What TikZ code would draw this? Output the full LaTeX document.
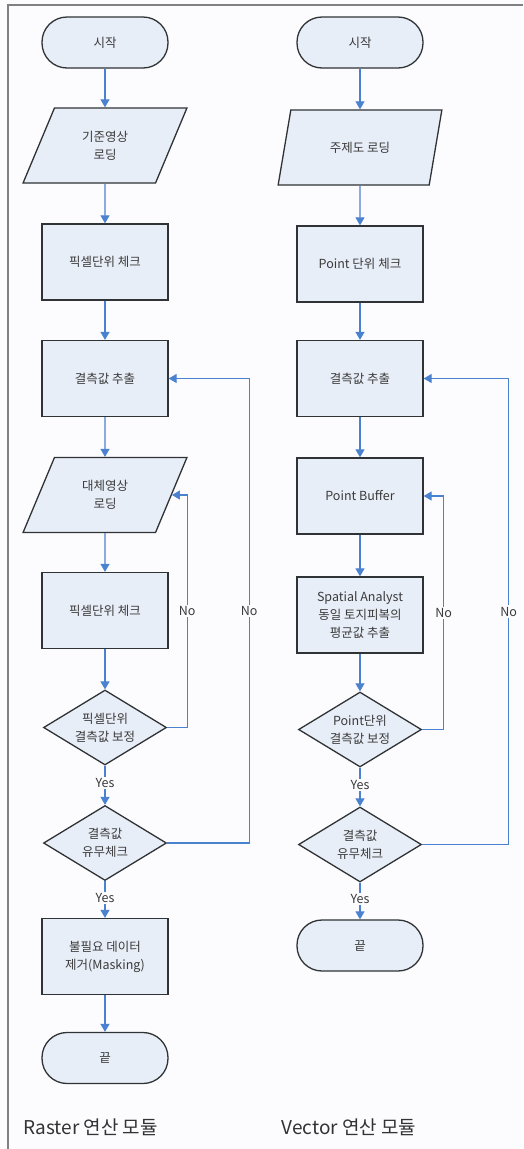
\documentclass[tikz,border=0pt]{standalone}
\usepackage{fontspec}
\setmainfont{Noto Sans CJK KR}
\usepackage{tikz}
\usetikzlibrary{shapes.geometric,arrows.meta}

\definecolor{boxfill}{HTML}{E8EEF7}
\definecolor{boxline}{HTML}{2F3335}
\definecolor{flowblue}{HTML}{4A82D0}
\definecolor{txtgray}{HTML}{3A3A3A}
\definecolor{paper}{HTML}{FCFCFE}

\begin{document}
\begin{tikzpicture}[x=1pt, y=-1pt,
	base/.style={draw=boxline, line width=1.3pt, fill=boxfill, text=txtgray,
		font=\fontsize{12.5}{18}\selectfont, align=center, inner sep=0pt},
	term/.style={base, rounded corners=25pt, minimum width=126pt, minimum height=51pt},
	proc/.style={base, rectangle, minimum width=126pt, minimum height=76pt},
	inout/.style={base, trapezium, trapezium left angle=64, trapezium right angle=116,
		trapezium stretches=true, minimum width=164pt, minimum height=75pt},
	decide/.style={base, diamond, aspect=1.65, minimum width=123pt, minimum height=75pt},
	flow/.style={draw=flowblue, line width=1.1pt, -{Triangle[length=8pt,width=9pt]}},
	lbl/.style={fill=paper, text=txtgray, inner sep=1.5pt, font=\fontsize{12.5}{14}\selectfont}]
\fill[paper] (0,0) rectangle (523,1149);
\useasboundingbox (0,0) rectangle (523,1149);
\draw[gray, line width=1.3pt] (8,1149) -- (8,5) -- (523,5);

% Raster
\node[term]   (st1) at (105,42.5)  {시작};
\node[inout]  (io1) at (105,145.5) {기준영상\\로딩};
\node[proc]   (p1)  at (105,262)   {픽셀단위 체크};
\node[proc]   (ex1) at (105,378.5) {결측값 추출};
\node[inout]  (io2) at (105,495)   {대체영상\\로딩};
\node[proc]   (p2)  at (105,610.5) {픽셀단위 체크};
\node[decide] (d1)  at (105,727.5) {픽셀단위\\결측값 보정};
\node[decide] (d2)  at (105,843)   {결측값\\유무체크};
\node[proc]   (p3)  at (105,956.5) {불필요 데이터\\제거(Masking)};
\node[term]   (en1) at (105,1058)  {끝};

\draw[flow] (st1) -- (io1);
\draw[flow] (io1) -- (p1);
\draw[flow] (p1) -- (ex1);
\draw[flow] (ex1) -- (io2);
\draw[flow] (io2) -- (p2);
\draw[flow] (p2) -- (d1);
\draw[flow] (d1) -- node[lbl, pos=0.45] {Yes} (d2);
\draw[flow] (d2) -- node[lbl, pos=0.45] {Yes} (p3);
\draw[flow] (p3) -- (en1);
\draw[flow] (d1.east) -- ++(20,0) |- node[lbl, pos=0.25] {No} (io2.east);
\draw[flow] (d2.east) -- ++(82,0) |- node[lbl, pos=0.25] {No} (ex1.east);

% Vector
\node[term]   (st2) at (360,42.5)  {시작};
\node[inout]  (io3) at (360,147.5) {주제도 로딩};
\node[proc]   (q1)  at (360,264)   {Point 단위 체크};
\node[proc]   (ex2) at (360,378.5) {결측값 추출};
\node[proc]   (q2)  at (360,496)   {Point Buffer};
\node[proc]   (q3)  at (360,615)   {Spatial Analyst\\동일 토지피복의\\평균값 추출};
\node[decide] (d3)  at (360,729.5) {Point단위\\결측값 보정};
\node[decide] (d4)  at (360,844.5) {결측값\\유무체크};
\node[term]   (en2) at (360,945.5) {끝};

\draw[flow] (st2) -- (io3);
\draw[flow] (io3) -- (q1);
\draw[flow] (q1) -- (ex2);
\draw[flow] (ex2) -- (q2);
\draw[flow] (q2) -- (q3);
\draw[flow] (q3) -- (d3);
\draw[flow] (d3) -- node[lbl, pos=0.45] {Yes} (d4);
\draw[flow] (d4) -- node[lbl, pos=0.45] {Yes} (en2);
\draw[flow] (d3.east) -- ++(21.5,0) |- node[lbl, pos=0.25] {No} (q2.east);
\draw[flow] (d4.east) -- ++(86.5,0) |- node[lbl, pos=0.25] {No} (ex2.east);

\node[anchor=west, text=black!80, font=\fontsize{19}{22}\selectfont] (lab1) at (20,1127) {Raster 연산 모듈};
\node[anchor=west, text=black!80, font=\fontsize{19}{22}\selectfont] (lab2) at (278,1127) {Vector 연산 모듈};
\end{tikzpicture}
\end{document}
